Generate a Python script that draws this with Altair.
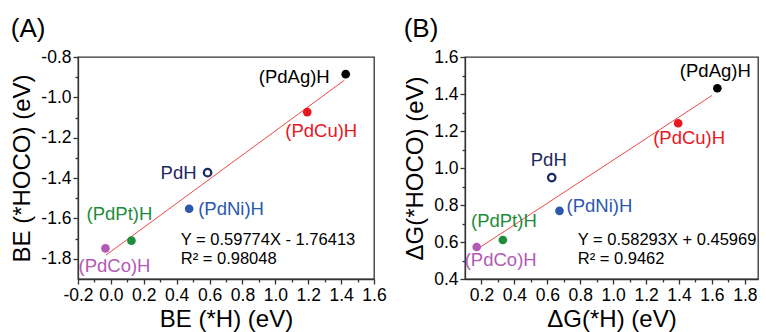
import altair as alt
import pandas as pd

# ---------------- data ----------------
names = ["(PdAg)H", "(PdCu)H", "PdH", "(PdNi)H", "(PdPt)H", "(PdCo)H"]
colors = ["#000000", "#e8161e", "#1e2a60", "#2c58ad", "#1f8c3b", "#b25ab4"]
open_marker = [False, False, True, False, False, False]

# panel A: binding energies
a_x = [1.428, 1.194, 0.588, 0.476, 0.125, -0.033]
a_y = [-0.885, -1.073, -1.373, -1.552, -1.710, -1.748]
a_fit_x = [-0.03, 1.42]
a_fit_y = [-1.782, -0.915]
a_eq = ["Y = 0.59774X - 1.76413", "R\u00b2 = 0.98048"]
a_eq_x = [0.425, 0.425]
a_eq_y = [-1.707, -1.800]

# panel B: free energies
b_x = [1.633, 1.395, 0.627, 0.674, 0.330, 0.171]
b_y = [1.431, 1.242, 0.948, 0.768, 0.611, 0.573]
b_fit_x = [0.17, 1.60]
b_fit_y = [0.559, 1.392]
b_eq = ["Y = 0.58293X + 0.45969", "R\u00b2 = 0.9462"]
b_eq_x = [0.785, 0.785]
b_eq_y = [0.611, 0.508]

a_xticks = [-0.2, 0.0, 0.2, 0.4, 0.6, 0.8, 1.0, 1.2, 1.4, 1.6]
a_xminor = [-0.1, 0.1, 0.3, 0.5, 0.7, 0.9, 1.1, 1.3, 1.5]
a_yticks = [-1.8, -1.6, -1.4, -1.2, -1.0, -0.8]
a_yminor = [-1.7, -1.5, -1.3, -1.1, -0.9]
b_xticks = [0.2, 0.4, 0.6, 0.8, 1.0, 1.2, 1.4, 1.6, 1.8]
b_xminor = [0.3, 0.5, 0.7, 0.9, 1.1, 1.3, 1.5, 1.7]
b_yticks = [0.4, 0.6, 0.8, 1.0, 1.2, 1.4, 1.6]
b_yminor = [0.5, 0.7, 0.9, 1.1, 1.3, 1.5]

# label placement styles (align, dx, dy) per point
a_label_style = [("right", -16, 3), ("center", 14, 19), ("right", -11, 0),
                 ("left", 9, 0), ("center", -12, -27), ("center", 9, 18)]
b_label_style = [("center", -2, -17), ("center", 11, 15), ("center", -3, -18),
                 ("left", 7, -5), ("center", 1, -19), ("center", 24, 13)]

FONT = "Liberation Sans"
LABEL_EXPR = "(datum.value < -0.001 ? '-' : '') + format(abs(datum.value), '.1f')"


def panel(xs, ys, fx, fy, eq, eqx, eqy, xdom, ydom, xt, xm, yt, ym,
          xtitle, ytitle, styles, tag, w, h):
    df = pd.DataFrame({"name": names, "x": xs, "y": ys,
                       "color": colors, "open": open_marker})
    fit = pd.DataFrame({"x": fx, "y": fy})
    eqdf = pd.DataFrame({"t": eq, "x": eqx, "y": eqy})
    xs_ = alt.Scale(domain=xdom, nice=False, zero=False)
    ys_ = alt.Scale(domain=ydom, nice=False, zero=False)

    x_main = alt.X("x:Q", scale=xs_, title=xtitle,
                   axis=alt.Axis(values=xt, labelExpr=LABEL_EXPR, orient="bottom",
                                 labelFlush=False, tickSize=5, titlePadding=4))
    y_main = alt.Y("y:Q", scale=ys_, title=ytitle,
                   axis=alt.Axis(values=yt, labelExpr=LABEL_EXPR, orient="left",
                                 tickSize=5, titlePadding=6))
    x_none = alt.X("x:Q", scale=xs_, axis=None)
    y_none = alt.Y("y:Q", scale=ys_, axis=None)

    line = alt.Chart(fit).mark_line(color="#f04848", strokeWidth=1).encode(
        x=x_main, y=y_main)
    minor = alt.Chart(fit).mark_point(opacity=0).encode(
        x=alt.X("x:Q", scale=xs_, title=None,
                axis=alt.Axis(values=xm, labels=False, domain=False, orient="bottom",
                              tickSize=3, title=None)),
        y=alt.Y("y:Q", scale=ys_, title=None,
                axis=alt.Axis(values=ym, labels=False, domain=False, orient="left",
                              tickSize=3, title=None)))
    filled = alt.Chart(df).transform_filter("!datum.open").mark_circle(
        size=75, opacity=1).encode(
        x=x_none, y=y_none, color=alt.Color("color:N", scale=None))
    hollow = alt.Chart(df).transform_filter("datum.open").mark_point(
        shape="circle", size=55, filled=False, strokeWidth=2.3, fill="white",
        opacity=1).encode(
        x=x_none, y=y_none, stroke=alt.Color("color:N", scale=None))
    layers = [line, minor, filled, hollow]
    for nm, (al, dx, dy) in zip(names, styles):
        layers.append(
            alt.Chart(df).transform_filter(alt.datum.name == nm).mark_text(
                align=al, baseline="middle", dx=dx, dy=dy, fontSize=18.5, font=FONT
            ).encode(x=x_none, y=y_none, text="name:N",
                     color=alt.Color("color:N", scale=None)))
    layers.append(
        alt.Chart(eqdf).mark_text(align="left", baseline="middle", fontSize=16.5,
                                  font=FONT, color="black").encode(
            x=x_none, y=y_none, text="t:N"))
    return alt.layer(*layers).resolve_axis(x="independent", y="independent").properties(
        width=w, height=h,
        title=alt.TitleParams(tag, anchor="start", frame="bounds", fontSize=26,
                              fontWeight="normal", font=FONT, offset=6, color="black"))


A = panel(a_x, a_y, a_fit_x, a_fit_y, a_eq, a_eq_x, a_eq_y, [-0.2, 1.6], [-1.9, -0.8],
          a_xticks, a_xminor, a_yticks, a_yminor, "BE (*H) (eV)", "BE (*HOCO) (eV)",
          a_label_style, "(A)", 296, 222)
B = panel(b_x, b_y, b_fit_x, b_fit_y, b_eq, b_eq_x, b_eq_y, [0.1, 1.88], [0.4, 1.6],
          b_xticks, b_xminor, b_yticks, b_yminor, "\u0394G(*H) (eV)", "\u0394G(*HOCO) (eV)",
          b_label_style, "(B)", 293, 222)

chart = alt.hconcat(A, B, spacing=16).configure(
    font=FONT, padding={"left": 10, "top": 15, "right": 0, "bottom": 0}
).configure_view(stroke="#333333", strokeWidth=1.3).configure_axis(
    grid=False, domainColor="#333333", domainWidth=1.3, tickColor="#333333",
    tickWidth=1.3, labelFontSize=17.5, titleFontSize=24, titleFontWeight="normal",
    labelColor="black", titleColor="black", labelPadding=2, labelFont=FONT,
    titleFont=FONT)

chart.save("out.html", embed_options={"renderer": "svg", "actions": False})
